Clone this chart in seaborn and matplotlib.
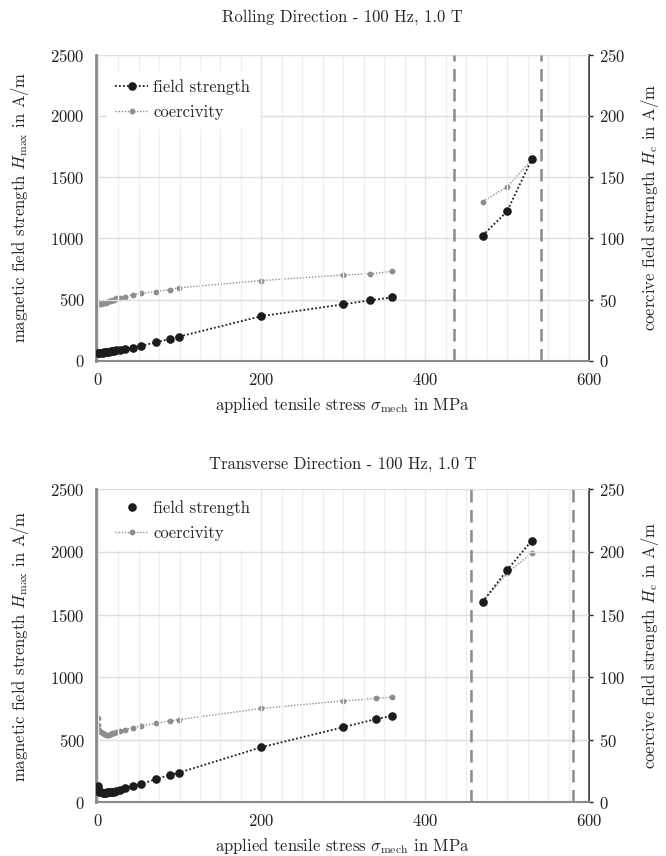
import numpy as np
import pandas as pd
import matplotlib
matplotlib.use("Agg")
import matplotlib.pyplot as plt
from matplotlib.lines import Line2D
from matplotlib.ticker import MultipleLocator
import seaborn as sns

# ---------------- data ----------------
rd_stress = [0, 2, 4, 6, 8, 10, 12, 14, 16, 18, 20, 23, 27, 33, 43, 53, 71, 88, 99,
             200, 300, 333, 360, 470, 500, 530]
rd_field = [60, 62, 64, 66, 68, 70, 72, 74, 76, 79, 82, 85, 89, 95, 106, 122, 150, 177, 196,
            364, 461, 494, 518, 1022, 1220, 1645]
rd_coerc = [47, 46.5, 46.5, 47, 47, 47.5, 48, 48.5, 49, 49.5, 50, 51, 51.5, 52, 54, 55, 56.5, 58, 59.5,
            65.5, 70, 71, 73, 130, 142, 164]
rd_segment = [0] * 23 + [1] * 3
rd_limits = [435, 541]

td_stress = [0, 1, 2, 4, 6, 8, 10, 12, 14, 16, 18, 20, 23, 27, 33, 43, 53, 71, 88, 99,
             200, 300, 340, 360, 470, 500, 530]
td_field = [130, 100, 85, 80, 78, 78, 78, 79, 80, 82, 84, 86, 90, 100, 115, 130, 146, 184, 218, 236,
            440, 600, 665, 690, 1600, 1855, 2090]
td_coerc = [67, 62, 58, 56, 55, 54.5, 54, 54, 54, 54.5, 55, 55.5, 56, 57, 58, 59.5, 61, 63, 65, 66,
            75, 81, 83, 84, 160, 183, 199]
td_segment = [0] * 24 + [1] * 3
td_limits = [456, 580]

titles = ["Rolling Direction - 100 Hz, 1.0 T", "Transverse Direction - 100 Hz, 1.0 T"]
xlabel = r"applied tensile stress $\sigma_\mathrm{mech}$ in MPa"
ylabel_left = r"magnetic field strength $H_\mathrm{max}$ in A/m"
ylabel_right = r"coercive field strength $H_\mathrm{c}$ in A/m"
legend_labels = ["field strength", "coercivity"]

# ---------------- style ----------------
sns.set_theme(style="white")
plt.rcParams["font.family"] = ["cmr10", "DejaVu Serif"]
plt.rcParams["mathtext.fontset"] = "cm"
plt.rcParams["axes.formatter.use_mathtext"] = True
plt.rcParams["axes.unicode_minus"] = False

BLACK = "#1c1c1c"
GRAY = "#8e8e8e"
FS = 12

fig = plt.figure(figsize=(6.66, 8.56), dpi=100)
ax_pos = [
    [96 / 666, 1 - 360.7 / 856, 493 / 666, 306 / 856],
    [96 / 666, 1 - 802.3 / 856, 493 / 666, 313 / 856],
]
legend_anchor = [(0.005, 0.975), (0.005, 1.02)]
title_pad = [24, 15]

datasets = [
    (rd_stress, rd_field, rd_coerc, rd_segment, rd_limits),
    (td_stress, td_field, td_coerc, td_segment, td_limits),
]

for i, (stress, field, coerc, seg, limits) in enumerate(datasets):
    ax = fig.add_axes(ax_pos[i])
    ax2 = ax.twinx()
    df = pd.DataFrame({"stress": stress, "field": field, "coerc": coerc, "seg": seg})

    ax.set_xlim(-2, 600)
    ax.set_ylim(0, 2500)
    ax2.set_ylim(0, 250)

    # grid
    ax.xaxis.set_major_locator(MultipleLocator(200))
    ax.xaxis.set_minor_locator(MultipleLocator(25))
    ax.yaxis.set_major_locator(MultipleLocator(500))
    ax2.yaxis.set_major_locator(MultipleLocator(50))
    ax.grid(True, which="minor", axis="x", color="#efefef", lw=1.0)
    ax.grid(True, which="major", axis="x", color="#e6e6e6", lw=1.0)
    ax.grid(True, which="major", axis="y", color="#dedede", lw=1.0)
    ax.set_axisbelow(True)

    # limits lines
    for lim in limits:
        ax.axvline(lim, color="#8a8a8a", lw=1.8, ls=(0, (5, 3)), zorder=2)

    sns.lineplot(data=df, x="stress", y="coerc", units="seg", estimator=None,
                 ax=ax2, color=GRAY, lw=1.0, linestyle=(0, (1, 1.2)),
                 marker="o", markersize=4.2, markeredgewidth=0, zorder=3)
    sns.lineplot(data=df, x="stress", y="field", units="seg", estimator=None,
                 ax=ax, color=BLACK, lw=1.3, linestyle=(0, (1, 1.2)),
                 marker="o", markersize=6.2, markeredgewidth=0, zorder=4)
    ax.set_zorder(ax2.get_zorder() + 1)
    ax.patch.set_visible(False)

    for a in (ax, ax2):
        a.spines["top"].set_visible(False)
    ax.spines["left"].set_color("#8a8a8a")
    ax.spines["left"].set_linewidth(2.0)
    ax.spines["bottom"].set_color("#8a8a8a")
    ax.spines["bottom"].set_linewidth(1.5)
    ax.spines["right"].set_visible(False)
    ax2.spines["left"].set_visible(False)
    ax2.spines["bottom"].set_visible(False)
    ax2.spines["right"].set_color("#222222")
    ax2.spines["right"].set_linewidth(1.2)

    ax.tick_params(axis="both", which="both", length=0, labelsize=FS, pad=8, colors="#222222")
    ax2.tick_params(axis="y", length=3, width=1, direction="out", labelsize=FS, pad=4, colors="#222222")

    ax.set_xlabel(xlabel, fontsize=FS, labelpad=5)
    ax.set_ylabel(ylabel_left, fontsize=FS, labelpad=14)
    ax2.set_ylabel(ylabel_right, fontsize=FS, labelpad=10)
    ax.set_title(titles[i], fontsize=FS, pad=title_pad[i])

    # legend
    if i == 0:
        h1 = Line2D([], [], color=BLACK, lw=1.3, ls=(0, (1, 1.2)), marker="o", markersize=6.2, markeredgewidth=0)
    else:
        h1 = Line2D([], [], color=BLACK, lw=0, marker="o", markersize=6.2, markeredgewidth=0)
    h2 = Line2D([], [], color=GRAY, lw=1.0, ls=(0, (1, 1.2)), marker="o", markersize=4.2, markeredgewidth=0)
    leg = ax.legend([h1, h2], legend_labels, loc="upper left", bbox_to_anchor=legend_anchor[i],
                    frameon=True, fontsize=FS, handlelength=2.0, handletextpad=0.3,
                    borderpad=0.5, labelspacing=0.6, fancybox=False)
    leg.get_frame().set_facecolor("white")
    leg.get_frame().set_edgecolor("white")
    leg.get_frame().set_alpha(1.0)

fig.savefig("out.png", dpi=100)
